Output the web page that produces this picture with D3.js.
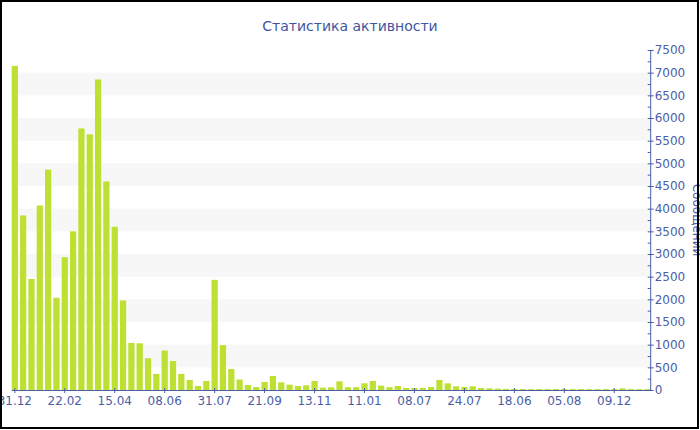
<!DOCTYPE html>
<html>
<head>
<meta charset="utf-8">
<script src="https://cdn.jsdelivr.net/npm/d3@7"></script>
<style>
  html, body { margin: 0; padding: 0; background: #fff; }
  svg { display: block; font-family: "DejaVu Sans", Verdana, sans-serif; }
</style>
</head>
<body>
<svg id="chart" width="700" height="430"></svg>
<script>
const title = "Статистика активности";
const yTitle = "Сообщений";
const values = [
  7150, 3850, 2450, 4070, 4860, 2035, 2930, 3500, 5770, 5640,
  6850, 4600, 3600, 1975, 1040, 1030, 700, 355, 870, 640,
  355, 220, 90, 200, 2430, 990, 465, 230, 110, 65,
  177, 310, 170, 118, 88, 103, 199, 52, 59, 192,
  62, 62, 147, 199, 96, 62, 88, 44, 44, 44,
  66, 221, 147, 81, 66, 81, 44, 37, 30, 25,
  22, 22, 20, 22, 20, 22, 20, 20, 22, 20,
  20, 22, 20, 37, 22, 20, 20
];
const tickIndex = [0, 6, 12, 18, 24, 30, 36, 42, 48, 54, 60, 66, 72];
const tickLabels = ["31.12", "22.02", "15.04", "08.06", "31.07", "21.09", "13.11", "11.01", "08.07", "24.07", "18.06", "05.08", "09.12"];
const yTicks = [0, 500, 1000, 1500, 2000, 2500, 3000, 3500, 4000, 4500, 5000, 5500, 6000, 6500, 7000, 7500];

(function () {
const categories = values.map((_, i) => i);
const svg = d3.select("#chart");
const pl = 11.7, pr = 650.7, pt = 50, pb = 390;
const axisColor = "#4a5ea6";

const x = d3.scaleBand().domain(categories).range([pl, pr]).paddingInner(0.25).paddingOuter(0);
const y = d3.scaleLinear().domain([0, 7500]).range([pb, pt]);

// stripes
const stripes = d3.range(500, 7500, 1000);
svg.append("g").selectAll("rect").data(stripes).join("rect")
  .attr("x", pl).attr("width", pr - pl)
  .attr("y", d => y(d + 500)).attr("height", d => y(d) - y(d + 500))
  .attr("fill", "#f7f7f7");

// bars
svg.append("g").selectAll("rect").data(values).join("rect")
  .attr("x", (d, i) => x(i)).attr("width", x.bandwidth())
  .attr("y", d => y(d)).attr("height", d => pb - y(d))
  .attr("fill", "#bde033");

// x axis
const labelMap = new Map(tickIndex.map((t, k) => [t, tickLabels[k]]));
const xAxis = d3.axisBottom(x).tickValues(tickIndex).tickFormat(d => labelMap.get(d)).tickSize(3).tickSizeOuter(0);
const gx = svg.append("g").attr("transform", `translate(0,${pb})`).call(xAxis);
gx.select(".domain").attr("stroke", axisColor).attr("d", `M${pl},0.5H${pr}`);
gx.selectAll(".tick line").attr("stroke", axisColor).attr("y1", -2);
gx.selectAll(".tick text").attr("fill", axisColor).attr("font-size", 12).attr("font-family", "DejaVu Sans").attr("dy", "0.71em").attr("y", 6);

// y axis right
const minor = d3.range(250, 7500, 500);
const gy = svg.append("g").attr("transform", `translate(${pr},0)`);
gy.append("line").attr("x1", 0).attr("x2", 0).attr("y1", y(0)).attr("y2", y(7500)).attr("stroke", axisColor);
gy.selectAll(".minor").data(minor).join("line").attr("class", "minor")
  .attr("x1", -3).attr("x2", 0).attr("y1", d => y(d) + 0.5).attr("y2", d => y(d) + 0.5).attr("stroke", axisColor);
gy.selectAll(".major").data(yTicks).join("line").attr("class", "major")
  .attr("x1", -3).attr("x2", 3).attr("y1", d => y(d) + 0.5).attr("y2", d => y(d) + 0.5).attr("stroke", axisColor);
gy.selectAll("text").data(yTicks).join("text")
  .attr("x", 4).attr("y", d => y(d)).attr("dy", "0.35em")
  .attr("fill", axisColor).attr("font-size", 12).text(d => d);

// y title
svg.append("text").attr("transform", `translate(693,${(pt + pb) / 2}) rotate(90)`)
  .attr("text-anchor", "middle").attr("fill", axisColor).attr("font-size", 12).text(yTitle);

// title
svg.append("text").attr("x", 350).attr("y", 31).attr("text-anchor", "middle")
  .attr("fill", "#3f55a0").attr("font-size", 14).text(title);

// border
svg.append("rect").attr("x", 1).attr("y", 1).attr("width", 697).attr("height", 427)
  .attr("fill", "none").attr("stroke", "#000").attr("stroke-width", 2);
})();
</script>
</body>
</html>
